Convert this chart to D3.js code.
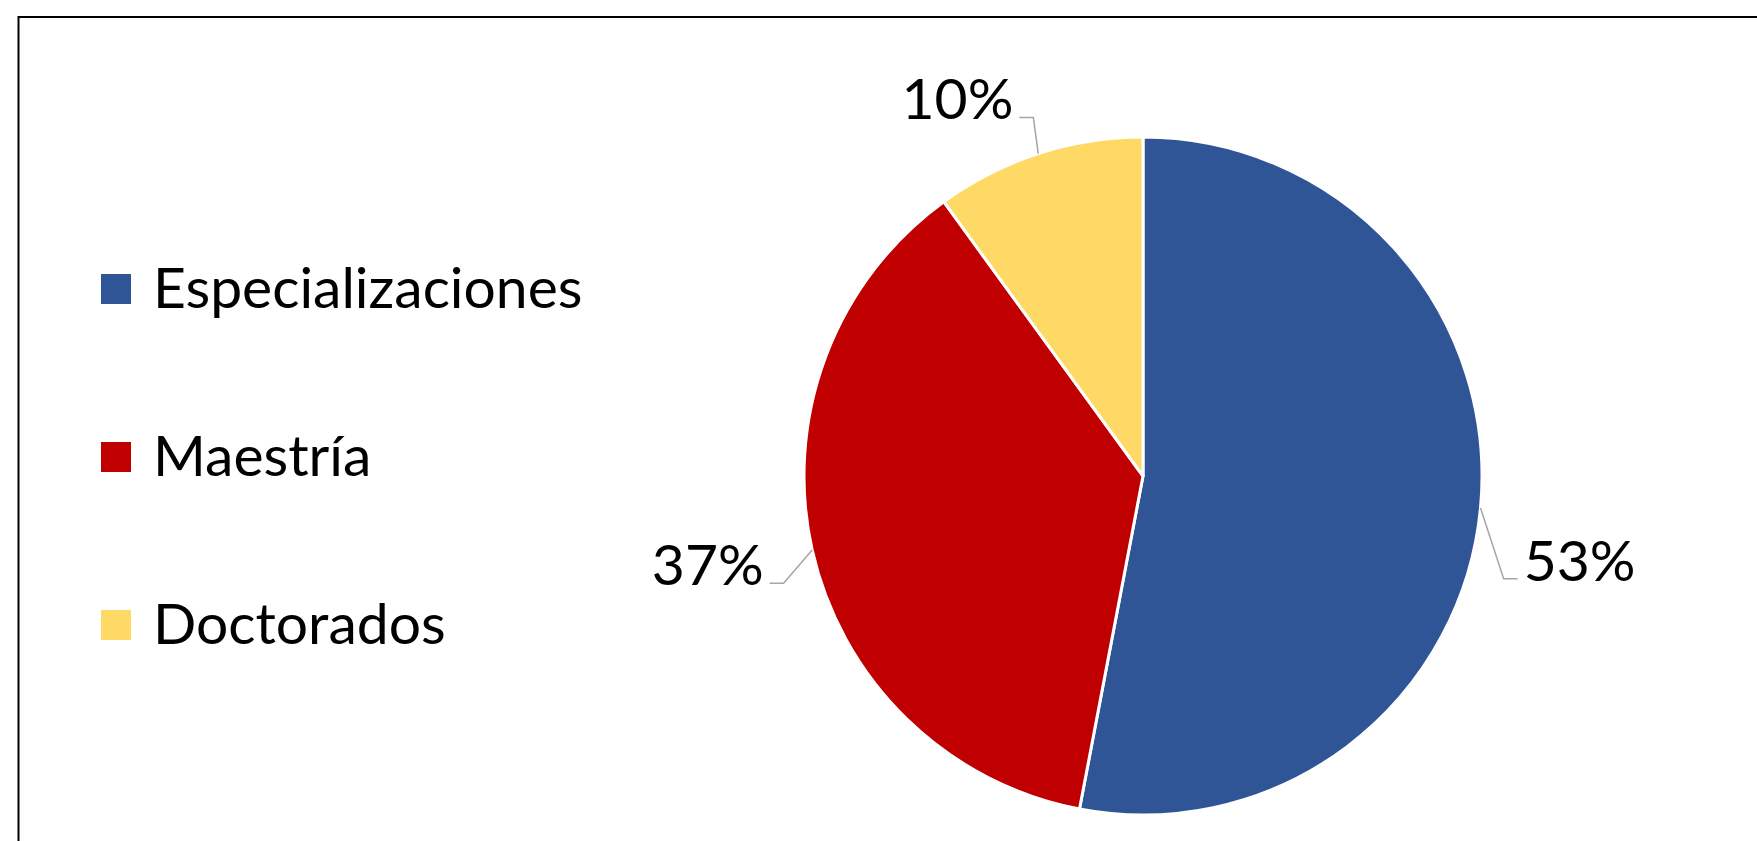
<!DOCTYPE html>
<html>
<head>
<meta charset="utf-8">
<script src="https://cdn.jsdelivr.net/npm/d3@7"></script>
<style>
  body { margin: 0; background: #fff; }
  text { font-family: Lato, "Open Sans", sans-serif; fill: #000; }
</style>
</head>
<body>
<div id="chart"></div>
<script>
// data
var categories = ["Especializaciones", "Maestría", "Doctorados"];
var values = [53, 37, 10];
var labels = ["53%", "37%", "10%"];
var colors = ["#2F5597", "#C00000", "#FFD966"];

var W = 1757, H = 841;

var svg = d3.select("#chart")
    .append("svg")
    .attr("width", W)
    .attr("height", H);

// chart frame (cut off at right and bottom like the original)
svg.append("rect")
    .attr("x", 18.5)
    .attr("y", 17)
    .attr("width", W + 50)
    .attr("height", H + 50)
    .attr("fill", "none")
    .attr("stroke", "#000")
    .attr("stroke-width", 2);

var cx = 1143, cy = 476, r = 339;

var pie = d3.pie().sort(null).value(function (d) { return d; });
var arcs = pie(values);

var arc = d3.arc().innerRadius(0).outerRadius(r);

var g = svg.append("g")
    .attr("transform", "translate(" + cx + "," + cy + ")");

g.selectAll("path.slice")
    .data(arcs)
    .enter()
    .append("path")
    .attr("class", "slice")
    .attr("d", arc)
    .attr("fill", function (d, i) { return colors[i]; })
    .attr("stroke", "#fff")
    .attr("stroke-width", 3)
    .attr("stroke-linejoin", "round");

// leader lines + labels, Excel "best fit" nudges the elbow a bit
var elbowNudge = [10.5, -4, 1]; // degrees
var elbowR = 375;

function pt(angle, rad) {
    return [Math.sin(angle) * rad, -Math.cos(angle) * rad];
}

arcs.forEach(function (d, i) {
    var mid = (d.startAngle + d.endAngle) / 2;
    var start = pt(mid, r);
    var elbow = pt(mid + elbowNudge[i] * Math.PI / 180, elbowR);
    var right = elbow[0] > 0;
    var end = [elbow[0] + (right ? 14 : -14), elbow[1]];

    g.append("polyline")
        .attr("points", [start, elbow, end].map(function (p) { return p.join(","); }).join(" "))
        .attr("fill", "none")
        .attr("stroke", "#A6A6A6")
        .attr("stroke-width", 1.5);

    g.append("text")
        .attr("x", end[0] + (right ? 6 : -6))
        .attr("y", elbow[1] + 2)
        .attr("text-anchor", right ? "start" : "end")
        .style("font-size", "57px")
        .text(labels[i]);
});

// legend
var legend = svg.append("g").attr("transform", "translate(101,0)");
var ly = d3.scalePoint().domain(categories).range([289, 625]);

legend.selectAll("rect")
    .data(categories)
    .enter()
    .append("rect")
    .attr("x", 0)
    .attr("y", function (d) { return ly(d) - 15; })
    .attr("width", 30)
    .attr("height", 30)
    .attr("fill", function (d, i) { return colors[i]; });

legend.selectAll("text")
    .data(categories)
    .enter()
    .append("text")
    .attr("x", 52)
    .attr("y", function (d) { return ly(d) + 19; })
    .style("font-size", "57px")
    .text(function (d) { return d; });
</script>
</body>
</html>
